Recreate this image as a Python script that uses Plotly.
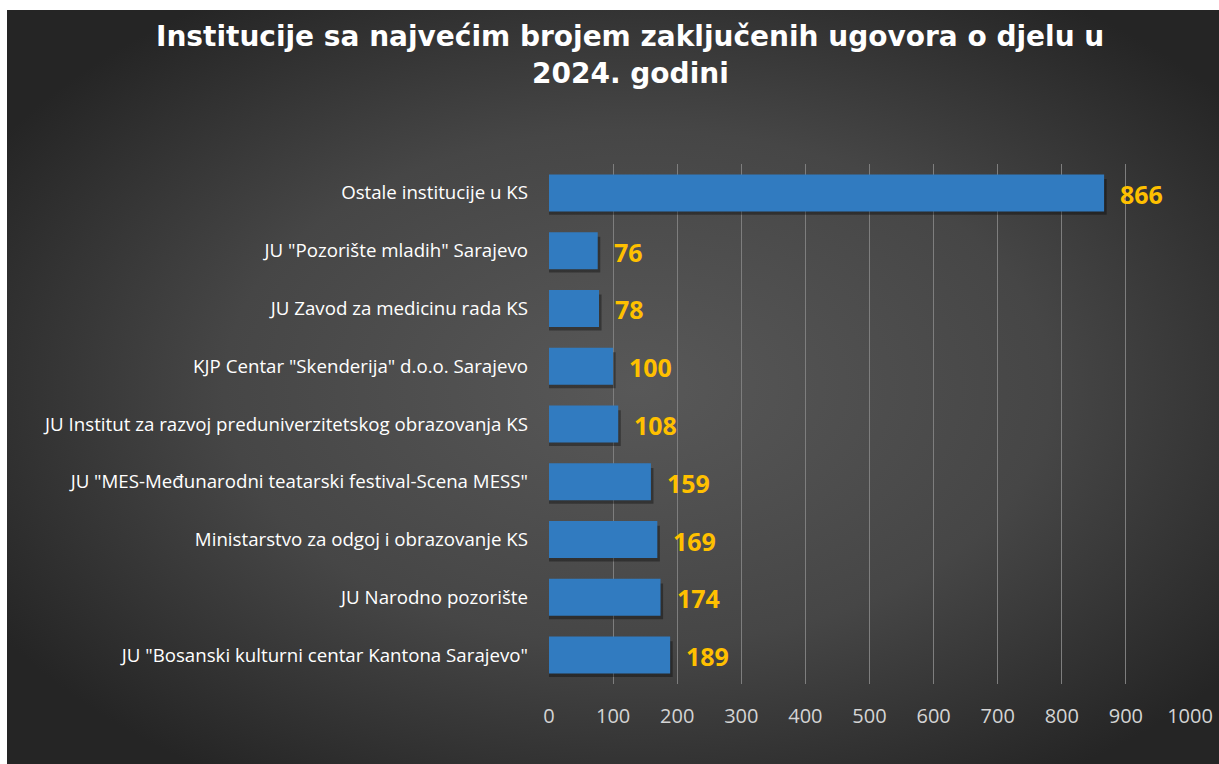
import plotly.graph_objects as go
import base64

categories = [
    "Ostale institucije u KS",
    'JU "Pozorište mladih" Sarajevo',
    "JU Zavod za medicinu rada KS",
    'KJP Centar "Skenderija" d.o.o. Sarajevo',
    "JU Institut za razvoj preduniverzitetskog obrazovanja KS",
    'JU "MES-Međunarodni teatarski festival-Scena MESS"',
    "Ministarstvo za odgoj i obrazovanje KS",
    "JU Narodno pozorište",
    'JU "Bosanski kulturni centar Kantona Sarajevo"',
]
values = [866, 76, 78, 100, 108, 159, 169, 174, 189]
tick_vals = list(range(0, 1001, 100))
title_lines = ["Institucije sa najvećim brojem zaključenih ugovora o djelu u", "2024. godini"]

W, H = 1219, 764
ml, mr, mt, mb = 549, 29, 164, 80
pw, ph = W - ml - mr, H - mt - mb

bx0, by0 = 7, 10
bw, bh = W - bx0, H - by0
svg = (
    f'<svg xmlns="http://www.w3.org/2000/svg" width="{bw}" height="{bh}" viewBox="0 0 {bw} {bh}" preserveAspectRatio="none">'
    '<defs><radialGradient id="g" cx="0.52" cy="0.5" r="0.62" fx="0.52" fy="0.5">'
    '<stop offset="0" stop-color="#585858"/>'
    '<stop offset="0.55" stop-color="#464646"/>'
    '<stop offset="1" stop-color="#252525"/>'
    '</radialGradient></defs>'
    f'<rect width="{bw}" height="{bh}" fill="url(#g)"/></svg>'
)
src = "data:image/svg+xml;base64," + base64.b64encode(svg.encode()).decode()

def px_x(p):
    return (p - ml) / pw

def px_y(p):
    return (H - mb - p) / ph

fig = go.Figure()

# soft shadow under bars
fig.add_trace(go.Bar(
    y=categories, x=[v + 4 for v in values], orientation="h",
    width=0.62, offset=-0.24,
    marker=dict(color="rgba(0,0,0,0.35)", line=dict(width=0)),
    hoverinfo="skip", showlegend=False,
))
fig.add_trace(go.Bar(
    y=categories, x=values, orientation="h",
    width=0.64, offset=-0.32,
    marker=dict(color="#317BC0", line=dict(width=0)),
    hoverinfo="x+y", showlegend=False,
))

annotations = [
    dict(x=v, y=c, xref="x", yref="y", text=str(v), showarrow=False,
         xanchor="left", yanchor="middle", xshift=14, yshift=-1,
         font=dict(family="Open Sans", size=25, color="#FFC000", weight="bold"))
    for c, v in zip(categories, values)
]
for line, ypx in zip(title_lines, [36, 74]):
    annotations.append(dict(
        x=px_x(630), y=px_y(ypx), xref="paper", yref="paper",
        text=line, showarrow=False, xanchor="center", yanchor="middle",
        font=dict(family="DejaVu Sans", size=28, color="white", weight="bold"),
    ))

fig.update_layout(
    width=W, height=H, autosize=False,
    margin=dict(l=ml, r=mr, t=mt, b=mb, pad=0, autoexpand=False),
    paper_bgcolor="white",
    plot_bgcolor="rgba(0,0,0,0)",
    barmode="overlay",
    annotations=annotations,
    images=[dict(
        source=src, xref="paper", yref="paper",
        x=px_x(bx0), y=px_y(by0), sizex=px_x(W) - px_x(bx0), sizey=px_y(by0) - px_y(H),
        sizing="stretch", xanchor="left", yanchor="top", layer="below",
    )],
    xaxis=dict(
        range=[0, 1000], tickvals=tick_vals, automargin=False,
        showgrid=True, gridcolor="#7E7E7E", gridwidth=1.3,
        zeroline=False, showline=False,
        tickfont=dict(family="Open Sans", size=20, color="#D4D4D4"),
        ticks="", ticklabelstandoff=18,
    ),
    yaxis=dict(
        autorange="reversed", automargin=False,
        showgrid=False, zeroline=False, showline=False,
        tickfont=dict(family="Open Sans", size=18.7, color="white"),
        ticks="", ticklabelstandoff=20,
    ),
)

fig.write_html(
    "out.html",
    config={"displayModeBar": False},
    post_script="document.body.style.margin='0';document.body.style.overflow='hidden';",
)
